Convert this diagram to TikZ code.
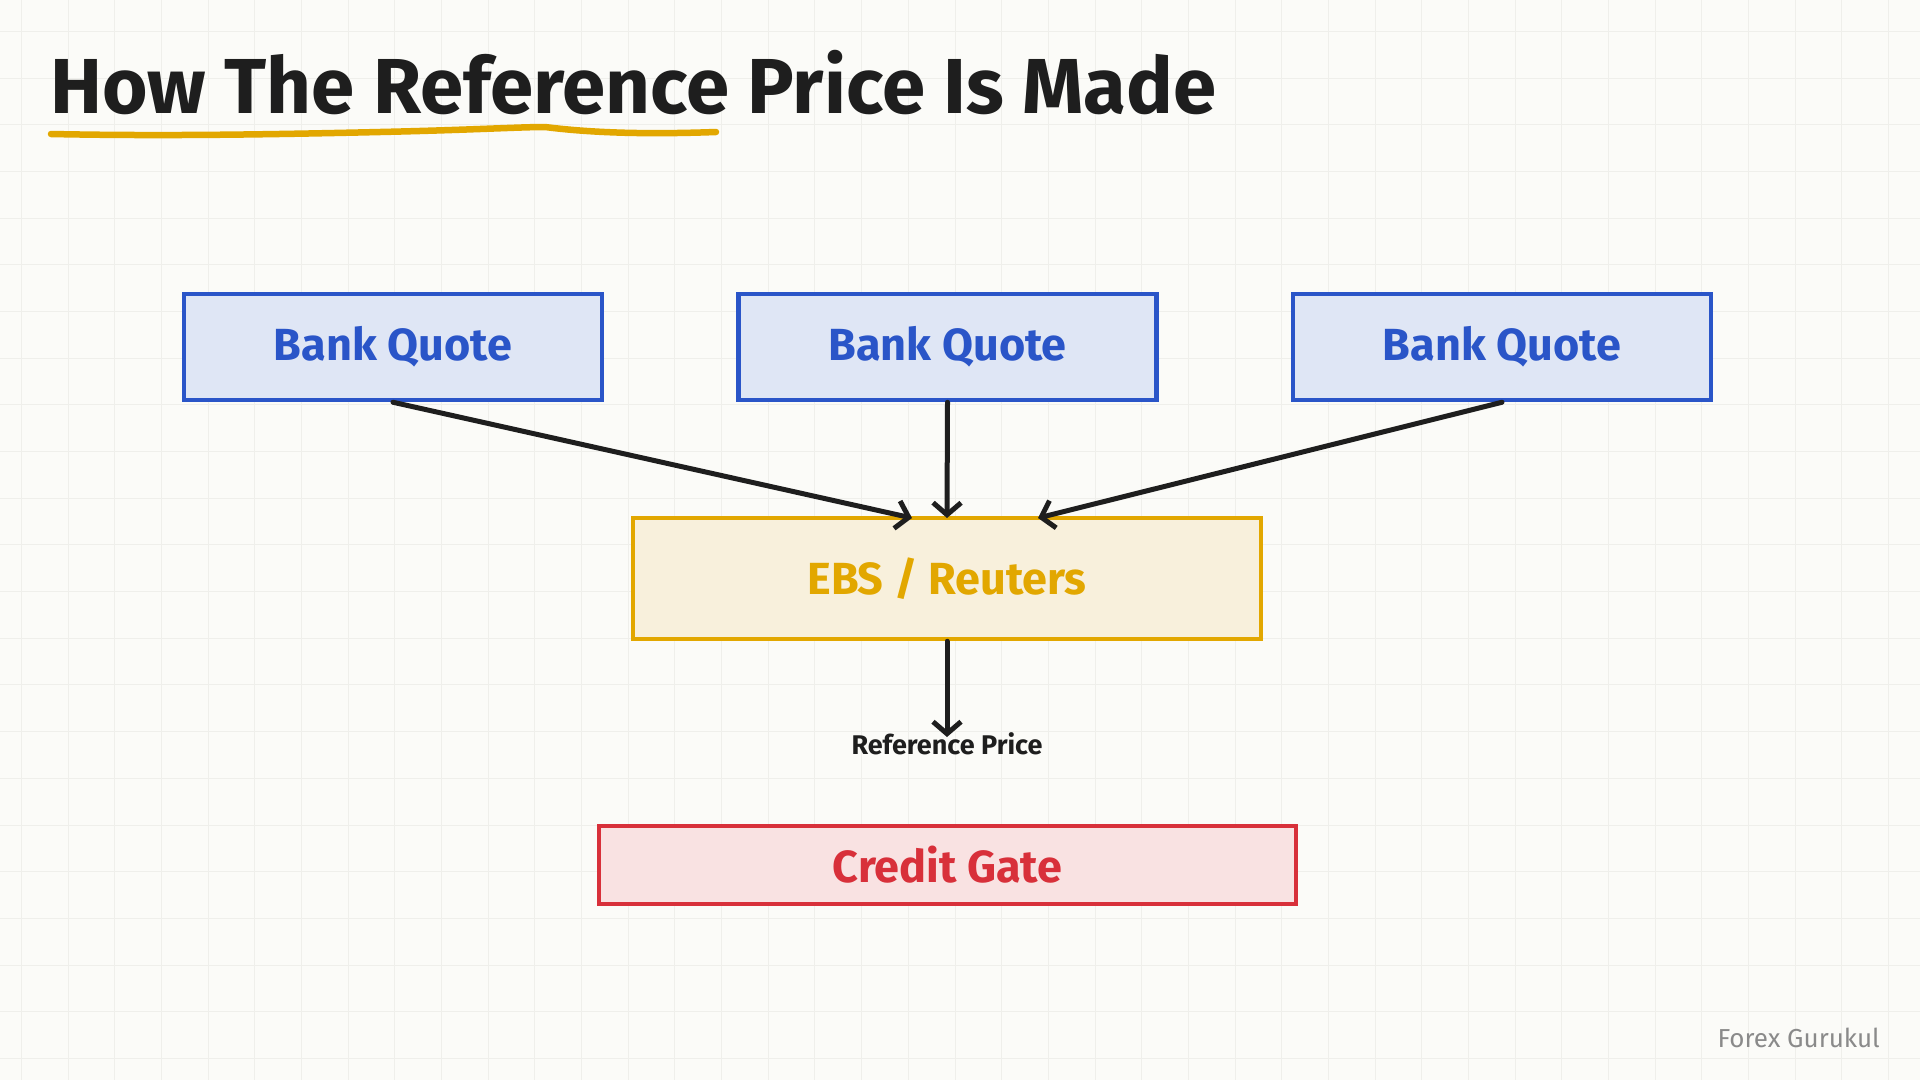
\documentclass[tikz,border=0pt]{standalone}
\usepackage{fontspec}
\setmainfont{Fira Sans}
\usetikzlibrary{arrows.meta}
\definecolor{bgc}{HTML}{FBFBF8}
\definecolor{gridc}{HTML}{EFEFEB}
\definecolor{bluec}{HTML}{2A55C8}
\definecolor{bluefill}{HTML}{DFE6F5}
\definecolor{goldc}{HTML}{E2A700}
\definecolor{goldfill}{HTML}{F8F0DC}
\definecolor{redc}{HTML}{D8303A}
\definecolor{redfill}{HTML}{F9E2E2}
\definecolor{inkc}{HTML}{1E1E1E}
\definecolor{grayc}{HTML}{8A8A8A}
\tikzset{
  box/.style={draw, line width=4.5pt, inner sep=0pt, font=\fontsize{45}{54}\selectfont\bfseries},
  bankbox/.style={box, draw=bluec, fill=bluefill, text=bluec, minimum width=418pt, minimum height=106pt},
  ebsbox/.style={box, draw=goldc, fill=goldfill, text=goldc, minimum width=628pt, minimum height=121pt},
  gatebox/.style={box, draw=redc, fill=redfill, text=redc, minimum width=697pt, minimum height=78pt},
  flow/.style={draw=inkc, line width=5pt, line cap=round, -{Straight Barb[length=12pt,width=28pt,line width=5pt]}},
}
\begin{document}
\begin{tikzpicture}[x=1pt,y=-1pt]
\fill[bgc] (0,0) rectangle (1920,1080);
\useasboundingbox (0,0) rectangle (1920,1080);
% grid
\foreach \i in {0,...,41} {
  \draw[gridc, line width=1pt] (21.6+\i*46.67,0) -- (21.6+\i*46.67,1080);
}
\foreach \j in {0,...,23} {
  \draw[gridc, line width=1pt] (0,31.6+\j*46.67) -- (1920,31.6+\j*46.67);
}
% title
\node[anchor=base west, inner sep=0pt, text=inkc, font=\fontsize{78}{90}\selectfont\bfseries] (title) at (50,113) {How The Reference Price Is Made};
\draw[goldc, line width=6.5pt, line cap=round, line join=round]
  (51,134) .. controls (150,136) and (250,135) .. (380,132)
  .. controls (470,130) and (520,127) .. (545,127)
  .. controls (600,134) and (660,134) .. (716,132);
% nodes
\node[bankbox] (b1) at (393,347) {Bank Quote};
\node[bankbox] (b2) at (947.5,347) {Bank Quote};
\node[bankbox] (b3) at (1502,347) {Bank Quote};
\node[ebsbox] (ebs) at (947,578.5) {EBS / Reuters};
\node[gatebox] (gate) at (947.5,865) {Credit Gate};
\node[inner sep=0pt, text=inkc, font=\fontsize{27}{32}\selectfont\bfseries] (ref) at (947,744) {Reference Price};
\coordinate (refend) at (947,737);
\node[anchor=east, inner sep=0pt, text=grayc, font=\fontsize{26}{32}\selectfont] (brand) at (1880,1038) {Forex Gurukul};
% connectors
\draw[flow] (b1.south) -- (912,518);
\draw[flow] (b2.south) -- (947,518);
\draw[flow] (b3.south) -- (1038,518);
\draw[flow] (ebs.south) -- (refend);
\end{tikzpicture}
\end{document}
